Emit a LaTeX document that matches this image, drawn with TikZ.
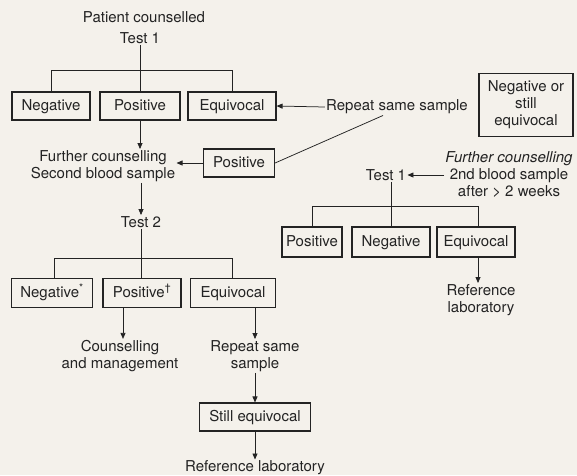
\documentclass[tikz,border=0pt]{standalone}
\usepackage{fontspec}
\setmainfont{TeX Gyre Heros}
\usetikzlibrary{arrows.meta}

\definecolor{paper}{RGB}{244,241,235}
\definecolor{ink}{RGB}{35,35,35}
\tikzset{every picture/.style={line width=0.75pt}}

\begin{document}
\begin{tikzpicture}[x=1pt,y=1pt,yscale=-1,xscale=1,
  every node/.style={font=\fontsize{15}{17}\selectfont,text=ink},
  result/.style={draw=ink,line width=1.1pt,minimum height=28pt,inner sep=2pt,text height=11pt,text depth=3pt},
  note/.style={align=center,inner sep=1pt},
  link/.style={draw=ink,-{Triangle[length=6pt,width=5pt]}},
  tree/.style={draw=ink}]
%set diagram to the size of the page
\fill [paper] (0,0) rectangle (577,475);
\useasboundingbox (0,0) rectangle (577,475);

%% first test
% Text Node
\node [note] (counsel) at (144,17) {Patient counselled};
% Text Node
\node [note] (testA) at (140,38) {Test 1};
%Shape: Rectangle
\node [result,minimum width=78pt] (negA) at (51,106) {Negative};
%Shape: Rectangle
\node [result,minimum width=80pt] (posA) at (140,106) {Positive};
%Shape: Rectangle
\node [result,minimum width=88pt] (equA) at (232,106) {Equivocal};
%Straight Lines
\draw [tree] (testA.south -| posA.north) -- (posA.north);
\draw [tree] (negA.north) -- ++(0,-21) -| (equA.north);

% Text Node
\node [note] (repeatA) at (397,107) {Repeat same sample};
\draw [link] (repeatA.west) -- (equA.east);
%Shape: Rectangle
\node [result,minimum width=71pt] (posB) at (239,163) {Positive};
%Straight Lines
\draw [tree] (posB.east) -- ([xshift=-14pt]repeatA.south);

% Text Node
\node [note] (furtherA) at (103,166) {Further counselling\\Second blood sample};
\draw [link] (posB.west) -- (posB.west -| furtherA.east);
\draw [link] (posA.south) -- (posA.south |- furtherA.north);

%% second test
% Text Node
\node [note] (testB) at (141,222) {Test 2};
\draw [link] (furtherA.south -| testB) -- (testB.north);
%Shape: Rectangle
\node [result,minimum width=81pt,minimum height=29pt] (negB) at (52,293) {Negative\textsuperscript{*}};
%Shape: Rectangle
\node [result,minimum width=78pt,minimum height=29pt] (posC) at (142,293) {Positive\textsuperscript{\textdagger}};
%Shape: Rectangle
\node [result,minimum width=85pt,minimum height=29pt] (equB) at (233,293) {Equivocal};
%Straight Lines
\draw [tree] (testB.south) -- (testB.south |- posC.north);
\draw [tree] ([xshift=2pt]negB.north) -- ++(0,-20) -| ([xshift=-1pt]equB.north);

% Text Node
\node [note] (manage) at (120,356) {Counselling\\and management};
\draw [link] ([xshift=-19pt]posC.south) -- ([xshift=-19pt]posC.south |- manage.north);
% Text Node
\node [note] (repeatB) at (255,356) {Repeat same\\sample};
\draw [link] (equB.south -| repeatB) -- (repeatB.north);
%Shape: Rectangle
\node [result,minimum width=111pt] (still) at (255,417) {Still equivocal};
\draw [link] (repeatB.south) -- (still.north);
% Text Node
\node [note] (refA) at (255,468) {Reference laboratory};
\draw [link] (still.south) -- (refA.north);

%% repeat after two weeks
%Shape: Rectangle
\node [draw=ink,line width=1.1pt,align=center,minimum width=94pt,minimum height=63pt,inner sep=2pt] (negStill) at (526,105) {Negative or\\still\\equivocal};
% Text Node
\node [note] (furtherB) at (509,175) {\textit{Further counselling}\\2nd blood sample\\after > 2 weeks};
% Text Node
\node [note] (testC) at (386,175) {Test 1};
\draw [link] (furtherB.west) -- (testC.east);
%Shape: Rectangle
\node [result,minimum width=60pt,minimum height=30pt] (posD) at (312,242) {Positive};
%Shape: Rectangle
\node [result,minimum width=78pt,minimum height=30pt] (negC) at (391,242) {Negative};
%Shape: Rectangle
\node [result,minimum width=78pt,minimum height=30pt] (equC) at (476,242) {Equivocal};
%Straight Lines
\draw [tree] (negC.north |- testC.south) -- (negC.north);
\draw [tree] (posD.north) -- ++(0,-20) -| ([xshift=2pt]equC.north);

% Text Node
\node [note] (refB) at (481,300) {Reference\\laboratory};
\draw [link] ([xshift=2pt]equC.south) -- ([xshift=2pt]equC.south |- refB.north);
\end{tikzpicture}
\end{document}
